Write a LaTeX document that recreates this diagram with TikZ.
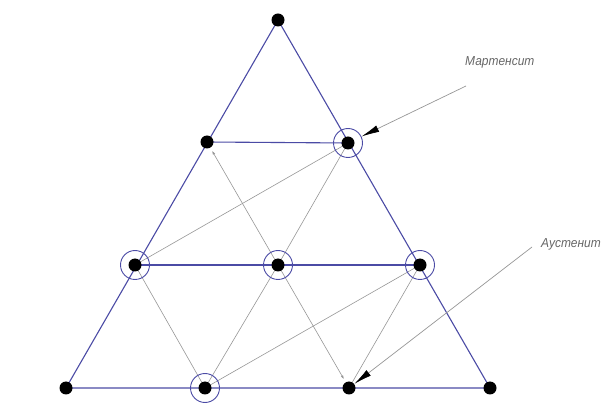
\documentclass[tikz,border=0pt]{standalone}
\usepackage{fontspec}
\setmainfont{Liberation Sans}
\newfontfamily\gostfont[FakeStretch=0.92]{Liberation Sans}
\usetikzlibrary{arrows.meta,calc}
\definecolor{bl}{RGB}{75,75,165}
\definecolor{gr}{RGB}{150,150,150}
\tikzset{
  pt/.style={circle,fill=black,inner sep=0pt,minimum size=13pt},
  ring/.style={draw=bl,line width=0.9pt,circle,inner sep=0pt,minimum size=29pt},
  blue line/.style={draw=bl,line width=1.1pt},
  gray line/.style={draw=gr,line width=0.6pt},
  leader/.style={draw=gr,line width=0.7pt,-{Latex[length=18pt,width=7pt,black]}},
  lbl/.style={font=\gostfont\itshape\fontsize{13}{15}\selectfont,text=black!60,inner sep=0pt},
  small arrow/.style={gray line,-{Latex[length=4pt,width=2.5pt]}}
}
\begin{document}
\begin{tikzpicture}[x=1pt,y=-1pt]
\useasboundingbox (0,0) rectangle (606,414);
% points
\coordinate (A) at (278,20);
\coordinate (B1) at (207,142);
\coordinate (B2) at (348,143);
\coordinate (C1) at (135,265);
\coordinate (C2) at (278,265);
\coordinate (C3) at (420,265);
\coordinate (D1) at (66,388);
\coordinate (D2) at (205,388);
\coordinate (D3) at (349,388);
\coordinate (D4) at (490,388);
\coordinate (B1e) at ($(B1)!10pt!(C2)$);
\coordinate (D3e) at ($(D3)!10pt!(C2)$);
% gray inner lines
\draw[gray line] (C1) -- (B2);
\draw[gray line] (C2) -- (B2);
\draw[small arrow] (C2) -- (B1e);
\draw[gray line] (C1) -- (D2);
\draw[gray line] (C2) -- (D2);
\draw[gray line] (D2) -- (C3);
\draw[gray line] (C3) -- (D3);
\draw[small arrow] (C2) -- (D3e);
% blue lines
\draw[blue line] (D1) -- (A) -- (D4) -- cycle;
\draw[blue line] (B1) -- (B2);
\draw[blue line] (C1) -- (C3);
% rings
\foreach \p in {B2,C1,C2,C3,D2} \node[ring] (r\p) at (\p) {};
% dots
\foreach \p in {A,B1,B2,C1,C2,C3,D1,D2,D3,D4} \node[pt] (n\p) at (\p) {};
% labels and leaders
\node[lbl,anchor=west] (mart) at (465,62) {Мартенсит};
\coordinate (mstart) at (466,86);
\draw[leader] (mstart) -- (rB2);
\node[lbl,anchor=west] (aust) at (541,244) {Аустенит};
\coordinate (astart) at (532,247);
\draw[leader] (astart) -- (nD3);
\end{tikzpicture}
\end{document}
